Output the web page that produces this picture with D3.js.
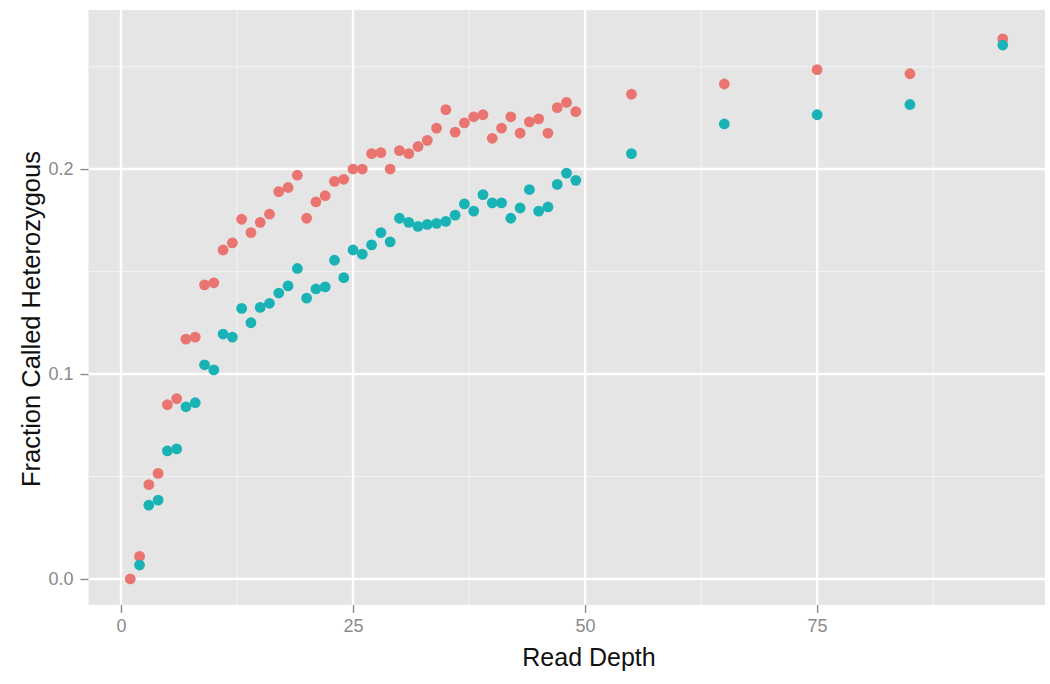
<!DOCTYPE html>
<html><head><meta charset="utf-8">
<script src="https://cdn.jsdelivr.net/npm/d3@7"></script>
<style>html,body{margin:0;padding:0;background:#fff;}svg{display:block;}</style>
</head><body>
<svg id="chart" width="1050" height="684"></svg>
<script>
// Read depth values
const depths = [1,2,3,4,5,6,7,8,9,10,11,12,13,14,15,16,17,18,19,20,21,22,23,24,25,26,27,28,29,30,31,32,33,34,35,36,37,38,39,40,41,42,43,44,45,46,47,48,49,55,65,75,85,95];
// Series 1 (red)
const redValues = [0.000,0.011,0.046,0.0515,0.085,0.088,0.117,0.118,0.1435,0.1445,0.1605,0.164,0.1755,0.169,0.174,0.178,0.189,0.191,0.197,
  0.176,0.184,0.187,0.194,0.195,0.200,0.200,0.2075,0.208,0.200,0.209,0.2075,0.211,0.214,0.220,0.229,0.218,0.2225,0.2255,0.2265,
  0.215,0.220,0.2255,0.2175,0.223,0.2245,0.2175,0.230,0.2325,0.228,0.2365,0.2415,0.2485,0.2465,0.2635];
// Series 2 (teal) - no visible point at depth 1
const tealValues = [null,0.0068,0.036,0.0385,0.0625,0.0635,0.084,0.086,0.1045,0.102,0.1195,0.118,0.132,0.125,0.1325,0.1345,0.1395,0.143,0.1515,
  0.137,0.1415,0.1425,0.1555,0.147,0.1605,0.1585,0.163,0.169,0.1645,0.176,0.174,0.172,0.173,0.1735,0.1745,0.1775,0.183,0.1795,0.1875,
  0.1835,0.1835,0.176,0.181,0.190,0.1795,0.1815,0.1925,0.198,0.1945,0.2075,0.222,0.2265,0.2315,0.2605];
const xTicks = [0,25,50,75];
const xMinor = [12.5,37.5,62.5,87.5];
const yTicks = [0.0,0.1,0.2];
const yMinor = [0.05,0.15,0.25];
const xTitle = "Read Depth";
const yTitle = "Fraction Called Heterozygous";

const svg = d3.select("#chart");
const L = 88.5, R = 1045, T = 10, B = 605;
const x = d3.scaleLinear().domain([-3.5, 99.55]).range([L, R]);
const y = d3.scaleLinear().domain([-0.0127, 0.2776]).range([B, T]);

svg.append("rect").attr("x", L).attr("y", T).attr("width", R - L).attr("height", B - T).attr("fill", "#e5e5e5");

const g = svg.append("g");
g.selectAll(".xminor").data(xMinor).join("line")
  .attr("x1", d => x(d)).attr("x2", d => x(d)).attr("y1", T).attr("y2", B)
  .attr("stroke", "#f2f2f2").attr("stroke-width", 1.2);
g.selectAll(".yminor").data(yMinor).join("line")
  .attr("y1", d => y(d)).attr("y2", d => y(d)).attr("x1", L).attr("x2", R)
  .attr("stroke", "#f2f2f2").attr("stroke-width", 1.2);
g.selectAll(".xmajor").data(xTicks).join("line")
  .attr("x1", d => x(d)).attr("x2", d => x(d)).attr("y1", T).attr("y2", B)
  .attr("stroke", "#ffffff").attr("stroke-width", 2.4);
g.selectAll(".ymajor").data(yTicks).join("line")
  .attr("y1", d => y(d)).attr("y2", d => y(d)).attr("x1", L).attr("x2", R)
  .attr("stroke", "#ffffff").attr("stroke-width", 2.4);

// Axes
const xAxis = svg.append("g").attr("transform", `translate(0,${B})`)
  .call(d3.axisBottom(x).tickValues(xTicks).tickFormat(d3.format("d")).tickSize(8).tickPadding(6));
const yAxis = svg.append("g").attr("transform", `translate(${L},0)`)
  .call(d3.axisLeft(y).tickValues(yTicks).tickFormat(d3.format(".1f")).tickSize(8).tickPadding(7));
[xAxis, yAxis].forEach(a => {
  a.select(".domain").remove();
  a.selectAll(".tick line").attr("stroke", "#8a8a8a").attr("stroke-width", 1.4);
  a.selectAll(".tick text").attr("fill", "#8a8a8a").attr("font-family", "Liberation Sans, Arial, sans-serif").attr("font-size", 18);
});

// Points
const redData = depths.map((d, i) => ({d, v: redValues[i]})).filter(p => p.v != null);
const tealData = depths.map((d, i) => ({d, v: tealValues[i]})).filter(p => p.v != null);
svg.append("g").selectAll("circle").data(redData).join("circle")
  .attr("cx", p => x(p.d)).attr("cy", p => y(p.v)).attr("r", 5.4).attr("fill", "#ea7470");
svg.append("g").selectAll("circle").data(tealData).join("circle")
  .attr("cx", p => x(p.d)).attr("cy", p => y(p.v)).attr("r", 5.4).attr("fill", "#19b3b6");

// Titles
svg.append("text").attr("x", 589).attr("y", 666).attr("text-anchor", "middle")
  .attr("font-family", "Liberation Sans, Arial, sans-serif").attr("font-size", 25).attr("fill", "#111")
  .text(xTitle);
svg.append("text").attr("transform", `translate(40,319) rotate(-90)`).attr("text-anchor", "middle")
  .attr("font-family", "Liberation Sans, Arial, sans-serif").attr("font-size", 25.5).attr("fill", "#111")
  .text(yTitle);
</script>
</body></html>
